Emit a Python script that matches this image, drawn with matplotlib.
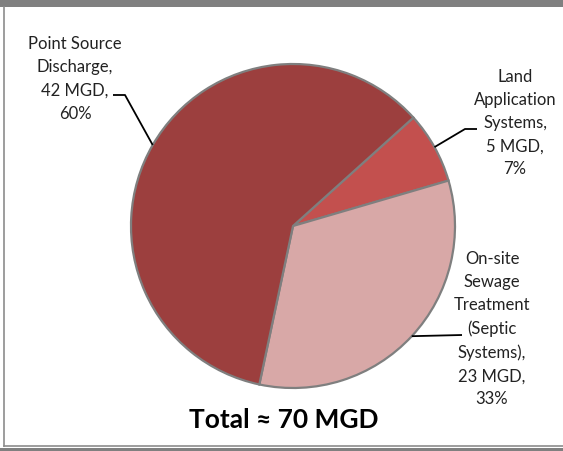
import matplotlib
matplotlib.use("Agg")
import matplotlib.pyplot as plt
import numpy as np

# Datos (MGD), en orden horario desde arriba a la derecha
fuentes = ["Land\nApplication\nSystems,\n5 MGD,\n7%",
           "On-site\nSewage\nTreatment\n(Septic\nSystems),\n23 MGD,\n33%",
           "Point Source\nDischarge,\n42 MGD,\n60%"]
mgd = [5, 23, 42]
colores = ["#C3504E", "#D8A8A7", "#9C3F3E"]
total_txt = "Total \u2248 70 MGD"

W, H = 563, 451
plt.rcParams['font.family'] = ['Lato', 'DejaVu Sans']

fig = plt.figure(figsize=(W / 100, H / 100), dpi=100)
ax = fig.add_axes([0, 0, 1, 1])


def py(y):
    # pixel desde arriba -> coordenada de datos
    return H - y


cx, cy, r = 293, 226, 162
wedges, _ = ax.pie(mgd, colors=colores, startangle=42, counterclock=False,
                   center=(cx, py(cy)), radius=r,
                   wedgeprops=dict(edgecolor="#7f7f7f", linewidth=1.6))
ax.set_xlim(0, W)
ax.set_ylim(0, H)
ax.set_aspect('equal')
ax.axis('off')

# posiciones de las etiquetas y codos de las líneas guía (pixeles)
pos_txt = [(515, 123), (492, 329), (75, 79)]
codos = [[(465, 129), (477, 129)],
         [(462, 335)],
         [(125, 95), (113, 95)]]

for w, txt, (tx, ty), codo in zip(wedges, fuentes, pos_txt, codos):
    ang = np.deg2rad((w.theta1 + w.theta2) / 2)
    ex = cx + r * np.cos(ang)
    ey = py(cy) + r * np.sin(ang)
    xs = [ex] + [p[0] for p in codo]
    ys = [ey] + [py(p[1]) for p in codo]
    ax.plot(xs, ys, color="black", lw=1.3, solid_capstyle='butt')
    ax.text(tx, py(ty), txt, ha='center', va='center', fontsize=12,
            color="#222222", linespacing=1.55)

ax.text(284, py(420), total_txt, ha='center', va='center', fontsize=19,
        fontweight='bold', color="black")

# marco
ax.add_patch(plt.Rectangle((0, py(7)), W, 7, color="#808080", lw=0))
ax.plot([4, 4], [py(7), py(446)], color="#8c8c8c", lw=1.2)
ax.plot([4, W], [py(446), py(446)], color="#8c8c8c", lw=1.2)
ax.add_patch(plt.Rectangle((0, 0), W, 3, color="#808080", lw=0))

fig.savefig("out.png", dpi=100)
